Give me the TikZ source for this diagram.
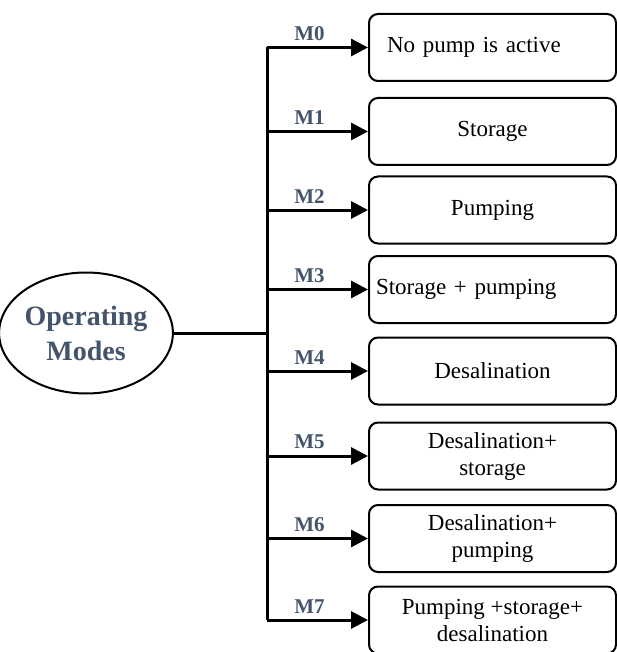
\documentclass[tikz,border=0pt]{standalone}
\usepackage{fontspec}
\setmainfont{Liberation Serif}
\usetikzlibrary{shapes.geometric,arrows.meta}
\definecolor{modeblue}{HTML}{44546A}
\tikzset{
  box/.style={draw,line width=2pt,rounded corners=9pt,minimum width=247pt,minimum height=67pt,
    font=\fontsize{23}{27}\selectfont},
  ctr/.style={align=center},
  lftA/.style={align=left,text width=211pt,inner xsep=18pt},
  lftB/.style={align=left,text width=233pt,inner xsep=7pt},
  arr/.style={line width=3pt,-{Triangle[length=17pt,width=17pt]}},
  lbl/.style={text=modeblue,font=\fontsize{21}{23}\selectfont\bfseries,pos=.42,above=2pt}
}
\begin{document}
\begin{tikzpicture}[x=1pt,y=-1pt]
\useasboundingbox (0,0) rectangle (617,652);
\node[draw,ellipse,line width=2pt,minimum width=162pt,minimum height=121pt,inner sep=0pt,align=center,
  text=modeblue,font=\fontsize{28}{35}\selectfont\bfseries] (modes) at (86,333) {Operating\\Modes};
\coordinate (trunk) at (267,0);
\foreach \i/\y/\s/\txt in {0/47.5/lftA/{No pump is active},1/131.5/ctr/Storage,2/210/ctr/Pumping,
  3/289.5/lftB/{Storage + pumping},4/371/ctr/Desalination,5/456/ctr/{Desalination+\\storage},
  6/538.5/ctr/{Desalination+\\pumping},7/620/ctr/{Pumping +storage+\\desalination}}{
  \node[box,\s] (b\i) at (492.5,\y) {\txt};
  \draw[arr] (b\i.west -| trunk) -- node[lbl]{M\i} (b\i.west);
}
\draw[line width=3pt] (b0.west -| trunk) -- (b7.west -| trunk);
\draw[line width=3pt] (modes.east) -- (modes.east -| trunk);
\end{tikzpicture}
\end{document}
